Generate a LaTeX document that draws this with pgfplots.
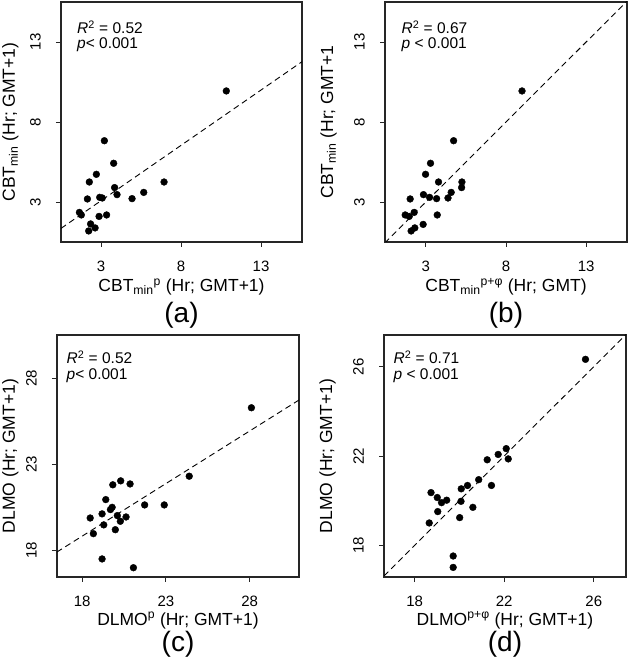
\documentclass[border=0pt]{standalone}
\usepackage{fontspec}
\setmainfont{Liberation Sans}
\usepackage{pgfplots}
\pgfplotsset{compat=1.18}

\pgfplotsset{
  rplot/.style={
    scale only axis,
    axis line style={line width=1.1pt, black!85},
    tick align=outside, xtick pos=left, ytick pos=left,
    major tick length=5pt,
    every tick/.style={black!85, line width=0.9pt},
    tick label style={font=\fontsize{15}{15}\selectfont},
    /pgf/number format/assume math mode=true,
    yticklabel style={rotate=90, anchor=south, inner sep=0pt},
    xticklabel style={anchor=north, inner sep=0pt},
    xticklabel shift=14pt,
    yticklabel shift=15pt,
    clip=true,
  },
  pts/.style={only marks, mark=*, mark size=3.4pt, black, mark options={fill=black}},
  fit/.style={black, line width=0.9pt, dash pattern=on 6pt off 4pt},
}
\newcommand{\lab}{\fontsize{17.5}{17.5}\selectfont}
\newcommand{\ann}{\fontsize{15.5}{15.5}\selectfont}
\newcommand{\plet}{\fontsize{28}{28}\selectfont}

\begin{document}
\begin{tikzpicture}
\useasboundingbox (0,0) rectangle (628pt,659pt);

% ---------------- (a)
\begin{axis}[rplot, name=a, at={(61pt,417pt)}, anchor=south west,
  width=241pt, height=240pt,
  xmin=0.5, xmax=15.56, ymin=0.5, ymax=15.5,
  xtick={3,8,13}, ytick={3,8,13}]
\addplot[fit] coordinates {(0.5,1.35) (15.56,11.77)};
\addplot[pts] table {
10.83 9.94
3.21 6.83
3.79 5.42
2.71 4.73
2.27 4.25
6.94 4.25
3.85 3.90
5.67 3.60
4.00 3.46
2.15 3.19
2.92 3.29
3.08 3.25
4.94 3.21
1.65 2.35
1.77 2.19
2.88 2.10
3.35 2.19
2.35 1.63
2.63 1.38
2.23 1.19
};
\end{axis}
\node[anchor=base west, font=\ann, inner sep=0pt] at ([xshift=16pt,yshift=-32pt]a.north west) {\textit{R}\textsuperscript{2} = 0.52};
\node[anchor=base west, font=\ann, inner sep=0pt] at ([xshift=16pt,yshift=-47pt]a.north west) {\textit{p}< 0.001};
\node[anchor=base, font=\lab, inner sep=0pt] at ([yshift=-50pt]a.south) {CBT\textsubscript{min}\textsuperscript{p} (Hr; GMT+1)};
\node[anchor=base, font=\plet, inner sep=0pt] at ([yshift=-81pt]a.south) {(a)};
\node[rotate=90, anchor=base, font=\lab, inner sep=0pt] at ([xshift=-46pt]a.west) {CBT\textsubscript{min} (Hr; GMT+1)};

% ---------------- (b)
\begin{axis}[rplot, name=b, at={(385pt,417pt)}, anchor=south west,
  width=242pt, height=240pt,
  xmin=0.45, xmax=15.55, ymin=0.5, ymax=15.5,
  xtick={3,8,13}, ytick={3,8,13}]
\addplot[fit] coordinates {(0,0) (16,16)};
\addplot[pts] table {
9.00 9.94
4.73 6.83
3.29 5.42
2.98 4.73
3.79 4.25
5.25 4.25
5.23 3.90
4.58 3.60
2.85 3.46
2.02 3.19
3.23 3.29
3.67 3.21
4.38 3.25
1.71 2.19
1.96 2.10
2.27 2.35
3.71 2.19
2.83 1.60
2.31 1.38
2.08 1.19
};
\end{axis}
\node[anchor=base west, font=\ann, inner sep=0pt] at ([xshift=16.5pt,yshift=-32pt]b.north west) {\textit{R}\textsuperscript{2} = 0.67};
\node[anchor=base west, font=\ann, inner sep=0pt] at ([xshift=16.5pt,yshift=-47pt]b.north west) {\textit{p} < 0.001};
\node[anchor=base, font=\lab, inner sep=0pt] at ([yshift=-50pt]b.south) {CBT\textsubscript{min}\textsuperscript{p+φ} (Hr; GMT)};
\node[anchor=base, font=\plet, inner sep=0pt] at ([yshift=-81pt]b.south) {(b)};
\node[rotate=90, anchor=base, font=\lab, inner sep=0pt] at ([xshift=-52pt]b.west) {CBT\textsubscript{min} (Hr; GMT+1};

% ---------------- (c)
\begin{axis}[rplot, name=c, at={(57pt,82pt)}, anchor=south west,
  width=242pt, height=242pt,
  xmin=16.5, xmax=30.94, ymin=16.45, ymax=30.52,
  xtick={18,23,28}, ytick={18,23,28}]
\addplot[fit] coordinates {(16.49,17.90) (30.94,26.74)};
\addplot[pts] table {
28.10 26.29
24.39 22.31
19.83 21.81
20.30 22.04
20.86 21.86
19.41 20.95
21.73 20.64
22.90 20.64
19.79 20.50
19.69 20.37
19.19 20.12
20.10 20.02
20.62 19.94
18.48 19.88
20.28 19.69
19.29 19.48
19.98 19.20
18.67 18.97
19.19 17.50
21.06 16.99
};
\end{axis}
\node[anchor=base west, font=\ann, inner sep=0pt] at ([xshift=9.5pt,yshift=-29pt]c.north west) {\textit{R}\textsuperscript{2} = 0.52};
\node[anchor=base west, font=\ann, inner sep=0pt] at ([xshift=9.5pt,yshift=-44.5pt]c.north west) {\textit{p}< 0.001};
\node[anchor=base, font=\lab, inner sep=0pt] at ([yshift=-48pt]c.south) {DLMO\textsuperscript{p} (Hr; GMT+1)};
\node[anchor=base, font=\plet, inner sep=0pt] at ([yshift=-74pt]c.south) {(c)};
\node[rotate=90, anchor=base, font=\lab, inner sep=0pt] at ([xshift=-42pt]c.west) {DLMO (Hr; GMT+1)};

% ---------------- (d)
\begin{axis}[rplot, name=d, at={(384pt,82pt)}, anchor=south west,
  width=242pt, height=242pt,
  xmin=16.63, xmax=27.44, ymin=16.58, ymax=27.42,
  xtick={18,22,26}, ytick={18,22,26}]
\addplot[fit] coordinates {(16,16) (28,28)};
\addplot[pts] table {
25.63 26.33
22.09 22.33
21.73 22.07
22.18 21.87
21.24 21.83
20.86 20.94
21.43 20.68
20.36 20.68
20.08 20.53
18.73 20.36
19.01 20.14
19.43 20.02
19.20 19.91
20.07 19.97
20.60 19.70
19.03 19.51
20.01 19.24
18.65 19.00
19.72 17.52
19.72 17.01
};
\end{axis}
\node[anchor=base west, font=\ann, inner sep=0pt] at ([xshift=9.5pt,yshift=-29pt]d.north west) {\textit{R}\textsuperscript{2} = 0.71};
\node[anchor=base west, font=\ann, inner sep=0pt] at ([xshift=9.5pt,yshift=-44.5pt]d.north west) {\textit{p} < 0.001};
\node[anchor=base, font=\lab, inner sep=0pt] at ([yshift=-48pt]d.south) {DLMO\textsuperscript{p+φ} (Hr; GMT+1)};
\node[anchor=base, font=\plet, inner sep=0pt] at ([yshift=-74pt]d.south) {(d)};
\node[rotate=90, anchor=base, font=\lab, inner sep=0pt] at ([xshift=-52pt]d.west) {DLMO (Hr; GMT+1)};
\end{tikzpicture}
\end{document}
